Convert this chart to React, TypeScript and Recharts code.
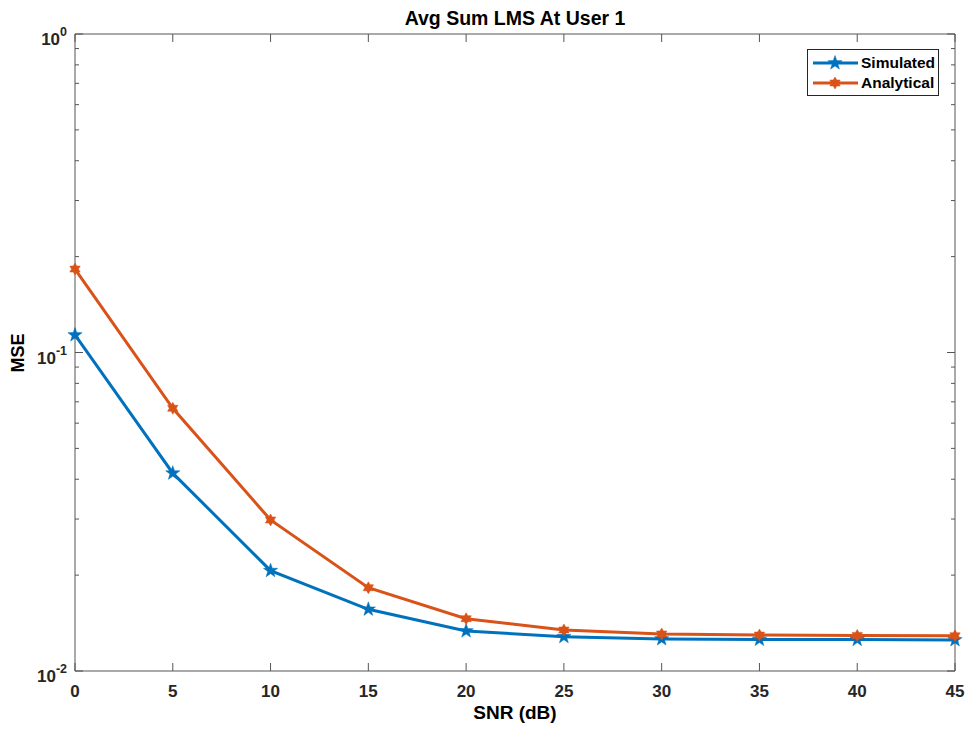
import { LineChart, Line, XAxis, YAxis, Legend } from 'recharts';

// SNR in dB
const snr = [0, 5, 10, 15, 20, 25, 30, 35, 40, 45];
const simulated = [0.1135, 0.0418, 0.02066, 0.01562, 0.01335, 0.01281, 0.0126, 0.01256, 0.01255, 0.01252];
const analytical = [0.1828, 0.0668, 0.0298, 0.01826, 0.01459, 0.01345, 0.01307, 0.01297, 0.01293, 0.0129];
const seriesNames = ['Simulated', 'Analytical'];

const xTicks = [0, 5, 10, 15, 20, 25, 30, 35, 40, 45];
const yMajor = [0.01, 0.1, 1];
const yExponents = ['-2', '-1', '0'];
const yMinor = [0.02, 0.03, 0.04, 0.05, 0.06, 0.07, 0.08, 0.09, 0.2, 0.3, 0.4, 0.5, 0.6, 0.7, 0.8, 0.9];

const data = snr.map((s, i) => ({ snr: s, simulated: simulated[i], analytical: analytical[i] }));

const BLUE = '#0072BD';
const ORANGE = '#D95319';
const AXIS = '#555555';
const TEXT = '#262626';
const FONT = '"Liberation Sans", Arial, Helvetica, sans-serif';
const TS = 6;
const TM = 2;

const starPoints = (cx: number, cy: number, n: number, R: number, r: number) => {
  const pts: string[] = [];
  for (let i = 0; i < n * 2; i++) {
    const rad = i % 2 === 0 ? R : r;
    const a = -Math.PI / 2 + (i * Math.PI) / n;
    pts.push(`${cx + rad * Math.cos(a)},${cy + rad * Math.sin(a)}`);
  }
  return pts.join(' ');
};

const Pentagram = (props: any) => {
  const { cx, cy } = props;
  if (cx == null || cy == null) return null;
  return <polygon points={starPoints(cx, cy, 5, 7.5, 3)} fill={BLUE} stroke={BLUE} strokeWidth={0.5} />;
};

const Hexagram = (props: any) => {
  const { cx, cy } = props;
  if (cx == null || cy == null) return null;
  return <polygon points={starPoints(cx, cy, 6, 6, 3.5)} fill={ORANGE} stroke={ORANGE} strokeWidth={0.5} />;
};

const LeftTick = ({ x, y, payload }: any) => {
  const edge = x + TS + TM;
  const i = yMajor.indexOf(payload.value);
  const major = i >= 0;
  return (
    <g>
      <line x1={edge} x2={edge + (major ? 8 : 4)} y1={y} y2={y} stroke={AXIS} />
      {major && (
        <text x={edge - 8} y={y + 11} textAnchor="end" fill={TEXT} fontFamily={FONT} fontWeight="bold" fontSize={17}>
          10<tspan dy={-9} fontSize={12.5}>{yExponents[i]}</tspan>
        </text>
      )}
    </g>
  );
};

const RightTick = ({ x, y, payload }: any) => {
  const edge = x - TS - TM;
  const major = yMajor.indexOf(payload.value) >= 0;
  return <line x1={edge} x2={edge - (major ? 8 : 4)} y1={y} y2={y} stroke={AXIS} />;
};

const BottomTick = ({ x, y, payload }: any) => {
  const edge = y - TS - TM;
  return (
    <g>
      <line x1={x} x2={x} y1={edge} y2={edge - 8} stroke={AXIS} />
      <text x={x} y={edge + 26} textAnchor="middle" fill={TEXT} fontFamily={FONT} fontWeight="bold" fontSize={17}>
        {payload.value}
      </text>
    </g>
  );
};

const TopTick = ({ x, y }: any) => {
  const edge = y + TS + TM;
  return <line x1={x} x2={x} y1={edge} y2={edge + 8} stroke={AXIS} />;
};

const LegendBox = ({ payload }: any) => {
  const items = seriesNames
    .map((n) => (payload || []).find((p: any) => p.value === n))
    .filter(Boolean);
  return (
    <div
      style={{
        border: `1px solid ${TEXT}`,
        background: '#fff',
        padding: '3px 3px 2px 4px',
        fontFamily: FONT,
        fontWeight: 'bold',
        fontSize: 15.5,
        color: '#000',
      }}
    >
      {items.map((entry: any) => (
        <div key={entry.value} style={{ display: 'flex', alignItems: 'center', height: 20 }}>
          <svg width={48} height={20} style={{ marginRight: 1 }}>
            <line x1={1} x2={46} y1={10} y2={10} stroke={entry.color} strokeWidth={3} />
            {entry.value === 'Simulated' ? <Pentagram cx={23} cy={10} /> : <Hexagram cx={23} cy={10} />}
          </svg>
          <span>{entry.value}</span>
        </div>
      ))}
    </div>
  );
};

export default function App() {
  return (
    <div style={{ position: 'absolute', left: 0, top: 0, width: 967, height: 729, background: '#fff' }}>
      <div
        style={{
          position: 'absolute',
          left: 0,
          width: 1030,
          top: 7,
          textAlign: 'center',
          fontFamily: FONT,
          fontWeight: 'bold',
          fontSize: 19.5,
          color: '#000',
          lineHeight: '22px',
        }}
      >
        Avg Sum LMS At User 1
      </div>
      <div
        style={{
          position: 'absolute',
          left: 0,
          width: 1030,
          top: 702,
          textAlign: 'center',
          fontFamily: FONT,
          fontWeight: 'bold',
          fontSize: 19,
          color: '#000',
          lineHeight: '22px',
        }}
      >
        SNR (dB)
      </div>
      <div
        style={{
          position: 'absolute',
          left: 18,
          top: 353,
          transform: 'translate(-50%, -50%) rotate(-90deg)',
          fontFamily: FONT,
          fontWeight: 'bold',
          fontSize: 18,
          color: '#000',
          whiteSpace: 'nowrap',
        }}
      >
        MSE
      </div>
      <LineChart width={967} height={729} data={data} margin={{ top: 33, right: 11, bottom: 0, left: 0 }}>
        <XAxis
          xAxisId="bottom"
          dataKey="snr"
          type="number"
          domain={[0, 45]}
          ticks={xTicks}
          interval={0}
          height={58}
          tickSize={TS}
          tickMargin={TM}
          tickLine={false}
          axisLine={{ stroke: AXIS }}
          tick={<BottomTick />}
        />
        <XAxis
          xAxisId="top"
          orientation="top"
          dataKey="snr"
          type="number"
          domain={[0, 45]}
          ticks={xTicks}
          interval={0}
          height={1}
          tickSize={TS}
          tickMargin={TM}
          tickLine={false}
          axisLine={{ stroke: AXIS }}
          tick={<TopTick />}
        />
        <YAxis
          yAxisId="left"
          type="number"
          scale="log"
          domain={[0.01, 1]}
          allowDataOverflow
          ticks={[...yMajor, ...yMinor]}
          interval={0}
          width={75}
          tickSize={TS}
          tickMargin={TM}
          tickLine={false}
          axisLine={{ stroke: AXIS }}
          tick={<LeftTick />}
        />
        <YAxis
          yAxisId="right"
          orientation="right"
          type="number"
          scale="log"
          domain={[0.01, 1]}
          allowDataOverflow
          ticks={[...yMajor, ...yMinor]}
          interval={0}
          width={1}
          tickSize={TS}
          tickMargin={TM}
          tickLine={false}
          axisLine={{ stroke: AXIS }}
          tick={<RightTick />}
        />
        <Legend
          layout="vertical"
          align="center"
          verticalAlign="middle"
          wrapperStyle={{ left: 807, top: 49, width: 'auto' }}
          content={<LegendBox />}
        />
        <Line
          xAxisId="bottom"
          yAxisId="left"
          dataKey="simulated"
          name="Simulated"
          stroke={BLUE}
          strokeWidth={3}
          dot={<Pentagram />}
          activeDot={false}
          isAnimationActive={false}
        />
        <Line
          xAxisId="bottom"
          yAxisId="left"
          dataKey="analytical"
          name="Analytical"
          stroke={ORANGE}
          strokeWidth={3}
          dot={<Hexagram />}
          activeDot={false}
          isAnimationActive={false}
        />
        {/* invisible series so the top and right box axes get drawn */}
        <Line
          xAxisId="top"
          yAxisId="right"
          dataKey="simulated"
          name="box"
          stroke="none"
          dot={false}
          activeDot={false}
          legendType="none"
          isAnimationActive={false}
        />
      </LineChart>
    </div>
  );
}
